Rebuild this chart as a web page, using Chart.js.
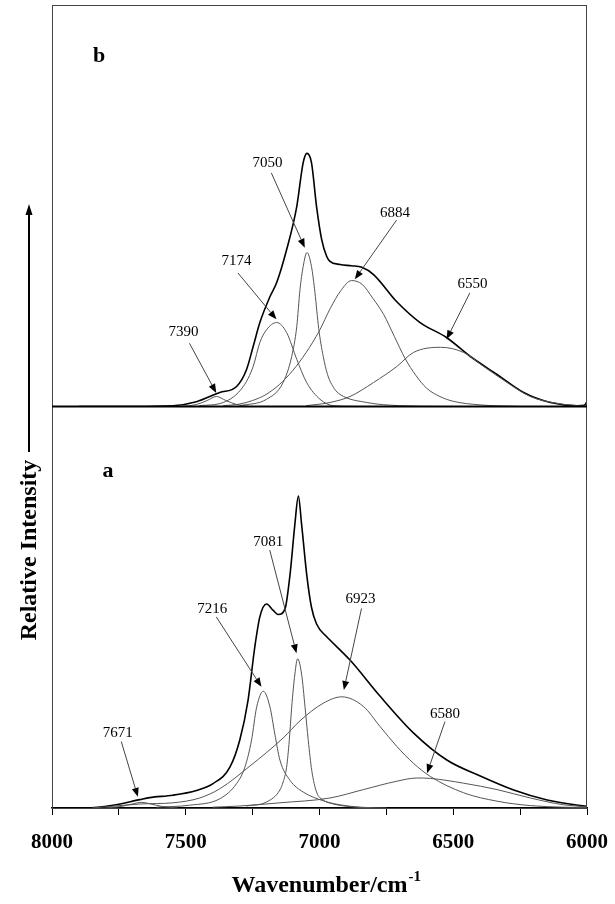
<!DOCTYPE html>
<html>
<head>
<meta charset="utf-8">
<script src="https://cdn.jsdelivr.net/npm/chart.js@4.4.1/dist/chart.umd.min.js"></script>
<style>
  html, body { margin: 0; padding: 0; background: #fff; }
  #wrap { width: 615px; height: 904px; }
</style>
</head>
<body>
<div id="wrap"><canvas id="spectra" width="615" height="904"></canvas></div>
<script>
// x ticks (cm-1), labelled every 500
const xTicks = [8000, 7750, 7500, 7250, 7000, 6750, 6500, 6250, 6000];

// ---- panel b : [wavenumber, intensity] ----
const envB = [[7900,0],[7700,0],[7548,0.2],[7460,1.2],[7373,3.5],[7310,5],[7273,9.2],[7248,15],[7223,21],
  [7185,27.5],[7160,31],[7123,39.2],[7085,50],[7061,61],[7047,63.3],[7030,61],[7011,50],[6992,41.8],
  [6973,37.5],[6961,36.3],[6923,35.5],[6880,35.2],[6842,34.8],[6798,33],[6711,26.2],[6624,21],[6524,17.2],
  [6436,12.5],[6336,8],[6237,3.5],[6137,1],[6037,0.2],[6010,0.3],[6000,1.2]];
const b7390 = [[7520,0],[7460,0.5],[7420,1.5],[7385,2.5],[7350,1.5],[7310,0.5],[7260,0]];
const b7174 = [[7450,0.2],[7360,1],[7285,5],[7248,10],[7223,16],[7198,19.2],[7160,21],[7123,18.5],
  [7085,11.8],[7048,6],[6998,1.8],[6948,0.2],[6850,0]];
const b7050 = [[7298,0.2],[7198,1.8],[7136,6],[7104,12.5],[7085,20],[7073,29.2],[7061,35],[7047,38.5],
  [7030,35],[7017,28.5],[7003,19.5],[6986,12.5],[6970,8],[6945,4.5],[6923,3],[6823,1],[6700,0.2],[6550,0]];
const b6884 = [[7360,0.2],[7300,0.6],[7250,1.5],[7200,3],[7150,5.5],[7100,9],[7050,13.5],[7000,19],
  [6960,24.5],[6920,29],[6880,31.5],[6840,30.5],[6800,27],[6760,23],[6720,17.5],[6680,12],[6640,7.8],
  [6600,4.6],[6550,2.5],[6500,1.3],[6400,0.4],[6250,0]];
const b6550 = [[7050,0.2],[6961,1],[6886,2.5],[6798,6],[6711,10],[6649,13.5],[6547,14.8],[6461,13.5],
  [6386,10],[6299,6],[6212,2.5],[6112,0.8],[6037,0.2],[6000,0.1]];

// ---- panel a ----
const envA = [[7900,0],[7872,0],[7772,0.7],[7672,2.1],[7635,2.6],[7548,3.2],[7460,4.4],[7398,6.1],
  [7335,10.2],[7298,17],[7267,27],[7242,40.2],[7223,47.8],[7198,51],[7173,49.4],[7154,48.4],[7129,49.8],
  [7110,58.5],[7092,71],[7079,78],[7067,71],[7048,58.5],[7030,50.2],[7011,46],[6973,42.8],[6961,42],
  [6886,37],[6774,28],[6649,18.8],[6524,12],[6399,8],[6274,4.5],[6149,2],[6024,0.6],[6000,0.4]];
const a7671 = [[7800,0],[7740,0.4],[7700,1],[7665,1.4],[7630,1],[7590,0.4],[7530,0]];
const a7216 = [[7610,0.2],[7485,0.7],[7373,2.3],[7310,6.1],[7279,10.2],[7254,17],[7235,25.2],[7210,29.2],
  [7185,25.2],[7167,18.5],[7148,12],[7110,6.9],[7061,4],[6986,1.8],[6923,0.8],[6850,0.2],[6750,0]];
const a7081 = [[7273,0.5],[7198,1.5],[7148,4.5],[7136,6.5],[7123,10.2],[7113,16.9],[7104,25.2],[7092,33.5],
  [7082,37.3],[7067,33.5],[7054,25.2],[7042,16.9],[7029,9.4],[7011,4],[6986,2],[6948,1],[6880,0.3],[6800,0]];
const a6923 = [[7850,0],[7797,0.3],[7672,1],[7548,1.3],[7448,2.5],[7373,4.8],[7260,10.5],[7136,17.5],
  [7073,21.8],[6986,26.2],[6917,27.8],[6836,25.4],[6774,20.4],[6711,15.4],[6649,11.2],[6586,7.9],
  [6461,3.8],[6336,1.7],[6212,0.6],[6087,0.2],[6000,0.1]];
const a6580 = [[7400,0.2],[7298,0.5],[7148,1.3],[6961,2.5],[6836,4.6],[6711,6.7],[6636,7.5],[6586,7.4],
  [6461,6.2],[6336,4.6],[6212,2.5],[6087,0.8],[6000,0.3]];

// peak labels: text, label (wn, int), arrow from (wn, int) to (wn, int)
const notesB = [
  ['7050', 7194, 60.8, 7180, 58.4, 7055, 39.7],
  ['7174', 7310, 36.3, 7305, 33.4, 7161, 21.8],
  ['7390', 7508, 18.5, 7486, 15.8, 7386, 3.4],
  ['6884', 6718, 48.3, 6712, 46.6, 6868, 31.8],
  ['6550', 6428, 30.5, 6438, 28.4, 6525, 16.8]
];
const notesA = [
  ['7081', 7192, 66.6, 7186, 64.5, 7086, 38.7],
  ['7216', 7401, 49.7, 7386, 47.8, 7217, 30.3],
  ['7671', 7754, 18.7, 7741, 16.6, 7679, 2.8],
  ['6923', 6847, 52.3, 6843, 49.9, 6909, 29.5],
  ['6580', 6531, 23.5, 6531, 21.6, 6598, 8.7]
];

const SERIF = '"Liberation Serif", "Times New Roman", serif';

function toXY(arr) {
  return arr.map(p => ({ x: p[0], y: p[1] }));
}

function series(arr, axis, isEnv) {
  return {
    data: toXY(arr),
    yAxisID: axis,
    borderColor: isEnv ? '#000' : '#555',
    borderWidth: isEnv ? 1.6 : 1,
    pointRadius: 0,
    fill: false,
    cubicInterpolationMode: 'monotone'
  };
}

function arrow(ctx, x1, y1, x2, y2) {
  const ang = Math.atan2(y2 - y1, x2 - x1);
  const len = 9, half = 3.5;
  const bx = x2 - len * Math.cos(ang), by = y2 - len * Math.sin(ang);
  ctx.strokeStyle = '#444';
  ctx.lineWidth = 1;
  ctx.beginPath();
  ctx.moveTo(x1, y1);
  ctx.lineTo(bx, by);
  ctx.stroke();
  ctx.fillStyle = '#000';
  ctx.beginPath();
  ctx.moveTo(x2, y2);
  ctx.lineTo(bx + half * Math.sin(ang), by - half * Math.cos(ang));
  ctx.lineTo(bx - half * Math.sin(ang), by + half * Math.cos(ang));
  ctx.closePath();
  ctx.fill();
}

function drawNotes(ctx, notes, xs, ys) {
  ctx.font = '15px ' + SERIF;
  ctx.textAlign = 'center';
  ctx.textBaseline = 'middle';
  notes.forEach(n => {
    ctx.fillStyle = '#000';
    ctx.fillText(n[0], xs.getPixelForValue(n[1]), ys.getPixelForValue(n[2]));
    arrow(ctx, xs.getPixelForValue(n[3]), ys.getPixelForValue(n[4]),
      xs.getPixelForValue(n[5]), ys.getPixelForValue(n[6]));
  });
}

const decor = {
  id: 'decor',
  afterDraw(chart) {
    const ctx = chart.ctx;
    const area = chart.chartArea;
    const xs = chart.scales.x, ya = chart.scales.yA, yb = chart.scales.yB;
    ctx.save();

    // frame
    ctx.strokeStyle = '#444';
    ctx.lineWidth = 1;
    ctx.strokeRect(area.left + 0.5, area.top + 0.5, area.right - area.left - 1, area.bottom - area.top);
    // panel divider
    ctx.strokeStyle = '#000';
    ctx.lineWidth = 2;
    ctx.beginPath();
    ctx.moveTo(area.left, yb.bottom);
    ctx.lineTo(area.right, yb.bottom);
    ctx.stroke();

    // panel letters
    ctx.fillStyle = '#000';
    ctx.font = 'bold 22px ' + SERIF;
    ctx.textAlign = 'center';
    ctx.textBaseline = 'alphabetic';
    ctx.fillText('b', 99, 62);
    ctx.fillText('a', 108, 477);

    drawNotes(ctx, notesB, xs, yb);
    drawNotes(ctx, notesA, xs, ya);

    // y title with arrow
    ctx.save();
    ctx.translate(30, 550);
    ctx.rotate(-Math.PI / 2);
    ctx.font = 'bold 24px ' + SERIF;
    ctx.textAlign = 'center';
    ctx.textBaseline = 'middle';
    ctx.fillStyle = '#000';
    ctx.fillText('Relative Intensity', 0, 0);
    ctx.restore();
    ctx.strokeStyle = '#000';
    ctx.lineWidth = 2;
    ctx.beginPath();
    ctx.moveTo(29, 452);
    ctx.lineTo(29, 214);
    ctx.stroke();
    ctx.beginPath();
    ctx.moveTo(29, 204);
    ctx.lineTo(25.5, 215);
    ctx.lineTo(32.5, 215);
    ctx.closePath();
    ctx.fill();

    // x title with superscript
    const main = 'Wavenumber/cm';
    ctx.font = 'bold 24px ' + SERIF;
    const w = ctx.measureText(main).width;
    const cx = (area.left + area.right) / 2;
    ctx.textAlign = 'left';
    ctx.textBaseline = 'alphabetic';
    ctx.fillText(main, cx - w / 2, 892);
    ctx.font = 'bold 15px ' + SERIF;
    ctx.fillText('-1', cx + w / 2 + 1, 881);

    ctx.restore();
  }
};

new Chart(document.getElementById('spectra'), {
  type: 'line',
  data: {
    datasets: [
      series(b7390, 'yB'), series(b7174, 'yB'), series(b7050, 'yB'),
      series(b6884, 'yB'), series(b6550, 'yB'), series(envB, 'yB', true),
      series(a7671, 'yA'), series(a7216, 'yA'), series(a7081, 'yA'),
      series(a6923, 'yA'), series(a6580, 'yA'), series(envA, 'yA', true)
    ]
  },
  options: {
    responsive: false,
    animation: false,
    devicePixelRatio: 1,
    events: [],
    layout: { padding: { left: 52, right: 28, top: 5, bottom: 0 } },
    plugins: { legend: { display: false }, tooltip: { enabled: false } },
    scales: {
      x: {
        type: 'linear',
        reverse: true,
        min: 6000,
        max: 8000,
        afterBuildTicks: s => { s.ticks = xTicks.map(v => ({ value: v })); },
        afterFit: s => { s.height = 96; s.paddingLeft = 0; s.paddingRight = 0; },
        ticks: {
          autoSkip: false,
          maxRotation: 0,
          padding: 15,
          color: '#000',
          font: { family: SERIF, size: 21, weight: 'bold' },
          callback: v => (v % 500 === 0 ? String(v) : '')
        },
        grid: { drawOnChartArea: false, drawTicks: true, tickLength: 7, color: '#000' },
        border: { display: true, color: '#000', width: 1.5 }
      },
      yA: { type: 'linear', position: 'left', stack: 'panels', stackWeight: 1, min: 0, max: 100.4, display: false },
      yB: { type: 'linear', position: 'left', stack: 'panels', stackWeight: 1, min: 0, max: 100.4, display: false }
    }
  },
  plugins: [decor]
});
</script>
</body>
</html>
